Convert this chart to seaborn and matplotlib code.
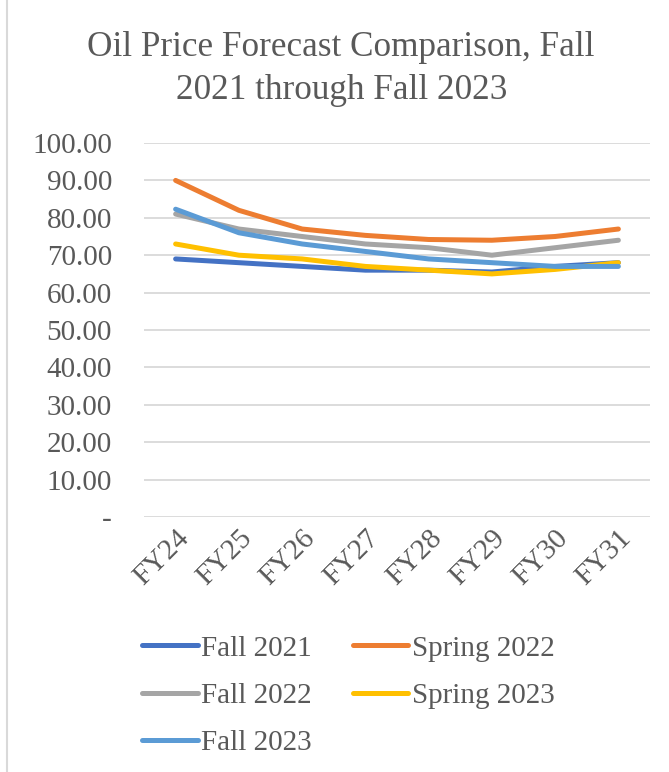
import pandas as pd
import matplotlib.pyplot as plt
import seaborn as sns
from matplotlib.patches import Rectangle
from matplotlib.ticker import FuncFormatter

years = ["FY24", "FY25", "FY26", "FY27", "FY28", "FY29", "FY30", "FY31"]
fall_2021 = [69.0, 68.0, 67.0, 66.0, 66.0, 65.5, 67.0, 68.0]
spring_2022 = [90.0, 82.0, 77.0, 75.3, 74.2, 74.0, 75.0, 77.0]
fall_2022 = [81.0, 77.0, 75.0, 73.0, 72.0, 70.0, 72.0, 74.0]
spring_2023 = [73.0, 70.0, 69.0, 67.0, 66.0, 65.0, 66.2, 68.0]
fall_2023 = [82.3, 76.0, 73.0, 71.0, 69.0, 68.0, 67.0, 67.0]
series_names = ["Fall 2021", "Spring 2022", "Fall 2022", "Spring 2023", "Fall 2023"]
colors = ["#4472C4", "#ED7D31", "#A5A5A5", "#FFC000", "#5B9BD5"]

rows = []
for name, vals in zip(series_names, [fall_2021, spring_2022, fall_2022, spring_2023, fall_2023]):
    for i, v in enumerate(vals):
        rows.append({"idx": i, "value": v, "series": name})
df = pd.DataFrame(rows)

sns.set_style("white")
plt.rcParams["font.family"] = ["Liberation Serif", "DejaVu Serif"]
txt = "#595959"

fig = plt.figure(figsize=(6.69, 7.72), dpi=100)
ax = fig.add_axes([144 / 669, 1 - 517 / 772, 506 / 669, 374 / 772])

sns.lineplot(data=df, x="idx", y="value", hue="series", hue_order=series_names,
             palette=colors, linewidth=3.6, ax=ax, legend=True)
for ln in ax.lines:
    ln.set_solid_capstyle("round")
    ln.set_solid_joinstyle("round")

ax.set_xlim(-0.5, 7.5)
ax.set_ylim(0, 100)
ax.set_yticks(range(0, 101, 10))
ax.yaxis.set_major_formatter(FuncFormatter(lambda v, p: "-" if v == 0 else f"{v:.2f}"))
ax.set_xticks(range(len(years)))
ax.set_xticklabels(years, rotation=45, ha="right", rotation_mode="anchor")
ax.tick_params(axis="y", length=0, pad=23, labelsize=21, labelcolor=txt)
ax.tick_params(axis="x", length=0, pad=6, labelsize=21, labelcolor=txt)
for lab in ax.get_xticklabels():
    lab.set_horizontalalignment("right")
ax.grid(axis="y", color="#D9D9D9", linewidth=1.3)
ax.set_axisbelow(True)
for s in ax.spines.values():
    s.set_visible(False)
ax.set_xlabel("")
ax.set_ylabel("")

handles, labels = ax.get_legend_handles_labels()
order = [0, 2, 4, 1, 3]
ax.legend([handles[i] for i in order], [labels[i] for i in order], ncol=2,
          loc="upper left", bbox_to_anchor=(116 / 669, 1 - 609 / 772),
          bbox_transform=fig.transFigure, frameon=False, fontsize=21,
          labelcolor=txt, handlelength=1.9, handletextpad=0.12,
          columnspacing=1.4, labelspacing=0.72)

fig.text(0.51, 1 - 69 / 772, "Oil Price Forecast Comparison, Fall\n2021 through Fall 2023",
         ha="center", va="center", fontsize=25.3, color=txt, linespacing=1.42)

fig.patches.append(Rectangle((7 / 669, -0.01), 1.5, 1.5, transform=fig.transFigure,
                             fill=False, edgecolor="#D9D9D9", linewidth=1.5))

fig.savefig("out.png", dpi=100)
